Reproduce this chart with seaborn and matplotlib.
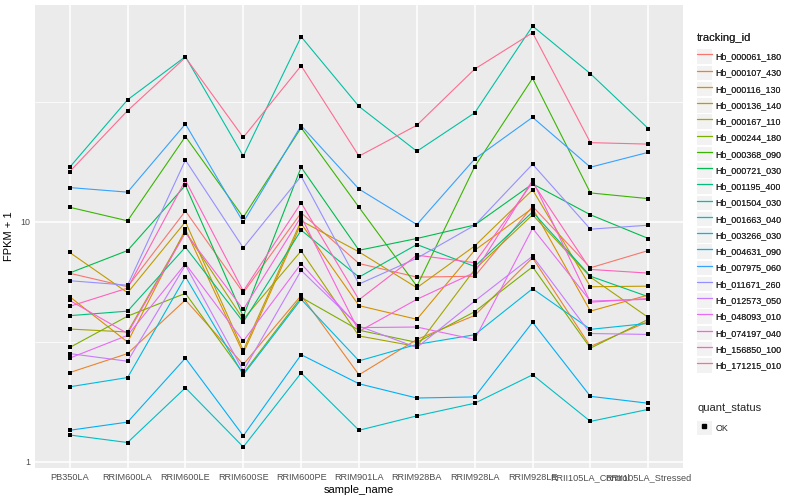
import numpy as np
import pandas as pd
import matplotlib
matplotlib.use("Agg")
import matplotlib.pyplot as plt
import seaborn as sns
from matplotlib.lines import Line2D
from matplotlib.patches import Patch
from matplotlib.legend_handler import HandlerTuple
from matplotlib.ticker import FixedLocator, NullFormatter

samples = ["PB350LA", "RRIM600LA", "RRIM600LE", "RRIM600SE", "RRIM600PE",
           "RRIM901LA", "RRIM928BA", "RRIM928LA", "RRIM928LE",
           "RRII105LA_Control", "RRII105LA_Stressed"]

tracking_ids = ["Hb_000061_180", "Hb_000107_430", "Hb_000116_130", "Hb_000136_140",
                "Hb_000167_110", "Hb_000244_180", "Hb_000368_090", "Hb_000721_030",
                "Hb_001195_400", "Hb_001504_030", "Hb_001663_040", "Hb_003266_030",
                "Hb_004631_090", "Hb_007975_060", "Hb_011671_260", "Hb_012573_050",
                "Hb_048093_010", "Hb_074197_040", "Hb_156850_100", "Hb_171215_010"]

palette_hex = ["#F8766D", "#EA8331", "#D89000", "#C09B00", "#A3A500", "#7CAE00",
               "#39B600", "#00BB4E", "#00BF7D", "#00C1A3", "#00BFC4", "#00BAE0",
               "#00B0F6", "#35A2FF", "#9590FF", "#C77CFF", "#E76BF3", "#FA62DB",
               "#FF62BC", "#FF6C91"]

# FPKM + 1 per sample (order of `samples`)
v_000061_180 = [6.1, 5.36, 11.1, 5.06, 10.9, 6.70, 5.88, 5.93, 11.6, 6.43, 7.59]
v_000107_430 = [2.35, 2.82, 4.72, 2.54, 4.93, 2.30, 3.23, 4.07, 7.08, 3.02, 3.84]
v_000116_130 = [4.87, 3.15, 9.29, 2.83, 9.84, 4.47, 3.92, 7.61, 11.4, 4.24, 4.95]
v_000136_140 = [7.45, 5.06, 10.0, 2.91, 10.1, 7.49, 5.31, 7.93, 13.6, 5.36, 5.39]
v_000167_110 = [3.57, 3.47, 9.11, 3.92, 7.56, 3.34, 3.02, 6.33, 10.7, 5.88, 3.99]
v_000244_180 = [2.99, 4.04, 5.03, 2.33, 4.84, 3.53, 3.14, 4.22, 6.49, 2.97, 3.92]
v_000368_090 = [11.5, 10.1, 22.7, 10.45, 24.7, 11.5, 5.39, 17.0, 39.7, 13.2, 12.5]
v_000721_030 = [6.12, 7.59, 14.2, 4.03, 16.9, 7.61, 8.52, 9.7, 14.4, 10.7, 8.52]
v_001195_400 = [4.06, 4.24, 7.84, 3.82, 9.23, 5.88, 8.04, 6.51, 11.0, 5.93, 4.87]
v_001504_030 = [16.9, 32.3, 48.9, 18.8, 59.2, 30.3, 19.7, 28.5, 65.6, 41.5, 24.5]
v_001663_040 = [1.29, 1.20, 2.03, 1.15, 2.34, 1.35, 1.55, 1.75, 2.30, 1.47, 1.65]
v_003266_030 = [2.05, 2.24, 5.90, 2.30, 4.75, 2.63, 3.08, 3.38, 5.26, 3.56, 3.77]
v_004631_090 = [1.35, 1.46, 2.70, 1.28, 2.79, 2.11, 1.84, 1.86, 3.81, 1.87, 1.75]
v_007975_060 = [13.9, 13.3, 25.6, 9.96, 25.2, 13.7, 9.74, 18.3, 27.3, 16.9, 19.5]
v_011671_260 = [5.68, 5.44, 18.1, 7.79, 15.5, 5.50, 7.05, 9.68, 17.4, 9.32, 9.68]
v_012573_050 = [2.82, 2.62, 6.60, 2.39, 6.27, 3.67, 2.99, 4.67, 7.19, 3.42, 3.39]
v_048093_010 = [2.70, 3.36, 6.68, 3.18, 6.69, 3.62, 3.64, 3.23, 9.40, 4.67, 4.75]
v_074197_040 = [4.70, 3.42, 9.0, 4.31, 10.5, 3.49, 4.75, 6.15, 14.9, 4.62, 4.79]
v_156850_100 = [4.44, 5.29, 14.9, 5.14, 12.0, 4.73, 7.26, 6.75, 14.6, 6.33, 6.11]
v_171215_010 = [16.2, 29.1, 48.5, 22.5, 44.8, 18.8, 25.3, 43.4, 61.5, 21.4, 21.1]

series_values = [v_000061_180, v_000107_430, v_000116_130, v_000136_140, v_000167_110,
                 v_000244_180, v_000368_090, v_000721_030, v_001195_400, v_001504_030,
                 v_001663_040, v_003266_030, v_004631_090, v_007975_060, v_011671_260,
                 v_012573_050, v_048093_010, v_074197_040, v_156850_100, v_171215_010]

quant_status = ["OK"]

rows = []
for tid, vals in zip(tracking_ids, series_values):
    for s, v in zip(samples, vals):
        rows.append((tid, s, v, quant_status[0]))
df = pd.DataFrame(rows, columns=["tracking_id", "sample_name", "fpkm", "quant_status"])

sns.set_style("white")
plt.rcParams["font.family"] = ["Liberation Sans", "DejaVu Sans"]

fig = plt.figure(figsize=(8, 5), dpi=100)
ax = fig.add_axes([35 / 800, 32 / 500, 648 / 800, 463 / 500])
ax.set_facecolor("#EBEBEB")

sns.lineplot(data=df, x="sample_name", y="fpkm", hue="tracking_id",
             hue_order=tracking_ids, palette=palette_hex, sort=False,
             estimator=None, linewidth=0.8, legend=False, ax=ax)
sns.scatterplot(data=df, x="sample_name", y="fpkm", color="black", marker="s",
                s=7, linewidth=0, legend=False, ax=ax, zorder=3)

ax.set_yscale("log")
lo, hi = np.log10(df["fpkm"].min()), np.log10(df["fpkm"].max())
pad = 0.05 * (hi - lo)
ax.set_ylim(10 ** (lo - pad), 10 ** (hi + pad))
ax.set_xlim(-0.6, len(samples) - 0.4)

ax.yaxis.set_major_locator(FixedLocator([1, 10]))
ax.set_yticklabels(["1", "10"])
ax.yaxis.set_minor_locator(FixedLocator([10 ** 0.5, 10 ** 1.5]))
ax.yaxis.set_minor_formatter(NullFormatter())

for sp in ax.spines.values():
    sp.set_visible(False)
ax.set_axisbelow(True)
ax.grid(which="major", color="white", linewidth=1.1)
ax.grid(which="minor", axis="y", color="white", linewidth=0.55)
ax.tick_params(which="major", length=2.2, width=0.6, color="#333333",
               labelcolor="#4D4D4D", labelsize=6.4, pad=1.5)
ax.tick_params(which="minor", length=0)
for lab in ax.get_xticklabels():
    lab.set_family(["Liberation Sans Narrow", "Liberation Sans", "DejaVu Sans"])
    lab.set_fontsize(6.6)

ax.set_xlabel("sample_name", fontsize=8, color="black", labelpad=2)
ax.set_ylabel("FPKM + 1", fontsize=8, color="black", labelpad=4)

key_bg = "#F2F2F2"
leg_kw = dict(loc="upper left", frameon=False, title_fontsize=8, fontsize=6.4,
              handlelength=1.65, handleheight=2.13, labelspacing=0.2,
              handletextpad=0.45, borderpad=0, borderaxespad=0, alignment="left",
              handler_map={tuple: HandlerTuple(ndivide=1, pad=0)})

handles1 = [(Patch(facecolor=key_bg, edgecolor="none"),
             Line2D([], [], color=c, linewidth=0.9)) for c in palette_hex]
leg1 = fig.legend(handles1, tracking_ids, bbox_to_anchor=(697 / 800, 1 - 33 / 500),
                  title="tracking_id", **leg_kw)
leg1._legend_box.sep = 4.5
fig.add_artist(leg1)

handles2 = [(Patch(facecolor=key_bg, edgecolor="none"),
             Line2D([], [], color="black", marker="s", markersize=2.5, linestyle="none"))]
leg2 = fig.legend(handles2, quant_status, bbox_to_anchor=(697 / 800, 1 - 403 / 500),
                  title="quant_status", **leg_kw)
leg2._legend_box.sep = 5.5

fig.savefig("out.png", dpi=100)
